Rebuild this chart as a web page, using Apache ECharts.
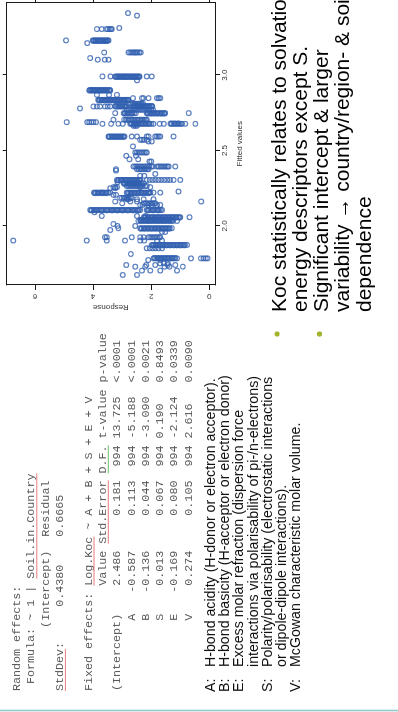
<!DOCTYPE html>
<html>
<head>
<meta charset="utf-8">
<script src="https://cdn.jsdelivr.net/npm/echarts@6/dist/echarts.min.js"></script>
<style>
  html, body { margin: 0; padding: 0; background: #ffffff; overflow: hidden; width: 398px; height: 712px; }
  #slide {
    position: absolute; left: 0; top: 0; width: 712px; height: 398px;
    transform-origin: 0 0; transform: translateY(712px) rotate(-90deg);
    background: #ffffff;
  }
</style>
</head>
<body>
<div id="slide"></div>
<script>
// ---------------- data ----------------
const fittedTicks = [2.0, 2.5, 3.0];
const responseTicks = [0, 2, 4, 6];

// fitted value of each horizontal streak of points
const rowFitted = [
  3.411, 3.394, 3.312, 3.305, 3.230, 3.212, 3.150, 3.113, 3.102, 2.991,
  2.965, 2.898, 2.869, 2.847, 2.836, 2.810, 2.792, 2.779, 2.770, 2.748,
  2.704, 2.688, 2.677, 2.664, 2.593, 2.571, 2.560, 2.527, 2.487, 2.465,
  2.442, 2.427, 2.394, 2.376, 2.367, 2.345, 2.332, 2.305, 2.290, 2.283,
  2.265, 2.257, 2.250, 2.228, 2.221, 2.206, 2.186, 2.177, 2.162, 2.150,
  2.139, 2.106, 2.091, 2.066, 2.058, 2.040, 2.033, 2.013, 2.000, 1.985,
  1.973, 1.960, 1.925, 1.903, 1.874, 1.852, 1.814, 1.785, 1.774, 1.752,
  1.741, 1.730, 1.704, 1.675,
  // companion streaks lying just beside the main ones
  3.226, 2.987, 2.902, 2.832, 2.796, 2.744, 2.680, 2.590, 2.302, 2.279,
  2.217, 2.103, 2.055, 2.036, 1.981, 1.871, 1.788
];

// observed responses along each streak
const rowResponse = [
  [2.80],
  [2.49],
  [3.10],
  [3.87, 3.70, 3.55, 3.49, 3.43, 3.38, 3.36],
  [4.93, 4.01, 3.97, 3.93, 3.89, 3.84, 3.80, 3.76, 3.72, 3.68, 3.63, 3.59, 3.55, 3.50, 3.47],
  [4.20],
  [3.62, 2.78, 2.72, 2.66, 2.61, 2.56, 2.52, 2.47, 2.41, 2.36],
  [4.10],
  [3.84, 3.60, 3.47],
  [3.68, 3.40, 3.24, 3.19, 3.15, 3.10, 3.05, 3.01, 2.97, 2.92, 2.88, 2.84, 2.79, 2.75, 2.70, 2.66, 2.62, 2.57, 2.53, 2.48, 2.44, 2.40, 2.15, 1.98],
  [2.49],
  [4.13, 4.09, 4.05, 4.01, 3.97, 3.93, 3.89, 3.85, 3.80, 3.76, 3.72, 3.68, 3.64, 3.59, 3.55, 3.50, 3.45, 3.41],
  [3.87, 3.45, 3.18],
  [2.63, 2.32, 2.27, 2.09, 1.80, 1.74, 1.69],
  [3.82, 3.77, 3.72, 3.67, 3.62, 3.57, 3.52, 3.47, 3.42, 3.37, 3.32, 3.27, 3.22, 3.17, 3.12, 3.07, 3.02, 2.97, 2.92, 2.87, 2.82, 2.78],
  [2.78, 2.73, 2.68, 2.63, 2.58, 2.53, 2.48, 2.43, 2.38, 2.33, 2.28],
  [3.99, 3.87, 3.76, 3.59, 3.50, 3.41, 3.24, 3.19, 3.14, 3.09, 3.04, 2.99, 2.94, 2.89, 2.84, 2.61, 2.56, 2.51, 2.46, 2.41, 2.36, 2.31, 2.26, 2.21, 2.16, 2.11, 2.06, 2.01, 1.96],
  [4.45],
  [2.84, 2.78, 2.72, 2.66, 2.60, 2.54, 2.48, 2.42, 2.36, 2.30, 2.24, 2.18, 2.12, 2.06, 2.00, 1.94],
  [3.24, 2.95, 2.89, 2.83, 2.77, 2.71, 2.65, 2.59, 2.53, 2.15, 2.10, 2.04, 1.98, 1.92, 1.86, 1.80, 1.74, 1.68, 1.62, 1.56, 1.52, 0.71],
  [3.30, 2.93, 2.88, 2.83, 2.78, 2.73, 2.68, 2.63, 2.58, 2.53, 2.48, 2.43, 2.38, 2.33, 2.28, 2.23, 2.18, 2.15],
  [4.91, 4.20, 4.13, 4.06, 3.99, 3.90],
  [3.68, 3.38, 3.13, 2.98, 2.72, 2.66, 2.60, 2.54, 2.48, 2.42, 2.36, 2.30, 2.24, 2.18, 2.12, 2.06, 2.00, 1.92, 1.71, 1.57, 1.34, 1.28, 1.22, 1.16, 1.10, 1.04, 0.98, 0.94, 0.83, 0.48],
  [2.61, 2.55, 2.49],
  [3.47, 3.42, 3.37, 3.32, 3.27, 3.22, 3.17, 3.12, 3.07, 3.02, 2.97, 2.92, 2.67, 2.49, 2.15, 2.09, 1.86, 1.80, 1.74, 1.69, 1.23],
  [2.38, 2.32, 2.26, 2.15],
  [2.09, 1.98],
  [2.63],
  [2.55, 2.49, 2.43, 2.37, 2.31, 2.25, 2.19, 2.15],
  [2.86, 2.52],
  [2.75, 2.45],
  [2.06, 2.00],
  [2.61, 2.55, 2.49, 2.43, 2.37, 2.31, 2.25, 2.19, 2.13, 2.07, 2.00, 1.94, 1.80, 1.74, 1.68, 1.62, 1.56, 1.50, 1.44, 1.40, 1.17],
  [3.21, 2.49, 2.43, 2.37, 2.31, 2.25, 2.19, 2.13, 2.09],
  [3.21],
  [1.86],
  [2.38, 2.24],
  [3.18, 3.12, 3.06, 3.00, 2.95, 2.90, 2.84, 2.78, 2.72, 2.66, 2.60, 2.54, 2.48, 2.42, 2.38, 2.15, 2.05, 1.95, 1.85, 1.75, 1.65, 1.55, 1.45, 1.35, 1.23, 1.00],
  [3.16],
  [2.95, 2.89, 2.83, 2.77, 2.71, 2.65, 2.59, 2.53, 2.47, 2.41, 2.35, 2.26],
  [2.84, 2.78, 2.72, 2.66, 2.60, 2.54, 2.48, 2.42, 2.36, 2.30, 2.21, 2.15],
  [3.30, 3.24, 3.18, 2.38, 2.03],
  [3.41, 3.24],
  [1.06],
  [3.97, 3.91, 3.85, 3.79, 3.73, 3.70, 3.66, 3.59, 3.53, 3.47, 3.41, 2.84, 2.78, 2.72, 2.66, 2.60, 2.54, 2.48, 2.42, 2.36, 2.30, 2.24, 2.18, 2.12, 2.06, 2.03, 1.92, 1.69],
  [3.30, 3.21],
  [3.07, 3.01, 2.95, 2.89, 2.83, 2.77, 2.71, 2.67],
  [2.84, 2.78, 2.49, 2.26, 1.92],
  [3.24, 2.72, 2.49, 0.28],
  [3.00, 2.26, 2.20, 2.14, 2.08, 2.02, 1.96, 1.90, 1.86],
  [2.38, 2.30, 2.10, 1.98, 1.80, 1.69],
  [4.10, 4.04, 3.98, 3.92, 3.86, 3.80, 3.74, 3.68, 3.62, 3.56, 3.50, 3.44, 3.38, 3.32, 3.26, 3.20, 3.14, 3.08, 3.02, 2.96, 2.90, 2.84, 2.78, 2.72, 2.66, 2.60, 2.54, 2.48, 2.42, 2.38, 2.15, 2.09, 2.03, 1.97, 1.91, 1.85, 1.79, 1.73, 1.67, 1.63],
  [3.95],
  [3.70, 2.49, 2.20],
  [2.26, 2.20, 2.14, 2.08, 2.02, 1.96, 1.90, 1.84, 1.78, 1.72, 1.66, 1.60, 1.54, 1.48, 1.42, 1.36, 1.30, 1.24, 1.18, 1.12, 1.06, 1.00, 0.68],
  [2.38, 2.32, 2.26, 2.20, 2.14, 2.08, 2.02, 1.96, 1.90, 1.84, 1.78, 1.72, 1.66, 1.60, 1.54, 1.48, 1.42, 1.36, 1.29],
  [2.44, 2.36, 2.28, 2.20, 2.12, 2.04, 1.96, 1.88, 1.80, 1.72, 1.64, 1.56, 1.48, 1.40, 1.32, 1.25, 1.11],
  [3.30],
  [3.16, 2.55],
  [3.13, 2.38, 2.32, 2.26, 2.20, 2.14, 2.08, 2.02, 1.96, 1.90, 1.84, 1.78, 1.72, 1.66, 1.60, 1.54, 1.48, 1.42, 1.36, 1.29],
  [3.41],
  [1.63, 1.52],
  [3.59, 3.53, 2.67, 2.38, 2.26, 2.09, 2.03, 1.97, 1.91, 1.85, 1.79, 1.73, 1.69],
  [6.75, 4.22, 3.53, 2.90, 2.38, 2.24, 1.80, 1.63],
  [1.98, 1.92, 1.86, 1.80, 1.74, 1.68, 1.62, 1.56, 1.50, 1.44, 1.38, 1.32, 1.26, 1.20, 1.14, 1.08, 1.02, 0.96, 0.90, 0.84, 0.77],
  [2.15, 2.05, 1.95, 1.85, 1.75, 1.63],
  [2.70],
  [1.92, 1.86, 1.80, 1.74, 1.68, 1.62, 1.56, 1.50, 1.44, 1.38, 1.32, 1.26, 1.20, 1.11, 0.63, 0.29, 0.20, 0.12, 0.06],
  [2.10, 1.69],
  [1.69, 1.57, 1.43],
  [2.86, 2.17, 1.86, 1.43, 1.17],
  [2.55, 2.21, 1.54, 1.37, 0.91],
  [2.32, 2.03, 1.69, 1.11],
  [2.98, 2.49],
  // companion streaks
  [3.99, 3.91, 3.82, 3.74, 3.65, 3.57, 3.52],
  [3.22, 3.13, 3.03, 2.94, 2.86, 2.77, 2.68, 2.59, 2.51, 2.42],
  [4.11, 4.03, 3.95, 3.87, 3.78, 3.70, 3.61, 3.53, 3.43],
  [3.80, 3.70, 3.60, 3.50, 3.40, 3.30, 3.20, 3.10, 3.00, 2.90, 2.80],
  [3.22, 3.12, 3.02, 2.92, 2.58, 2.48, 2.38, 2.28, 2.18, 2.08, 1.98],
  [2.92, 2.80, 2.68, 2.12, 2.01, 1.90, 1.78, 1.66, 1.55],
  [2.70, 2.57, 2.45, 2.33, 2.21, 2.09, 1.31, 1.19, 1.07],
  [3.45, 3.35, 3.25, 3.15, 3.05, 2.95],
  [3.15, 3.03, 2.87, 2.75, 2.63, 2.51, 2.40],
  [2.92, 2.80, 2.68, 2.56, 2.44, 2.32],
  [3.94, 3.82, 3.68, 3.56, 2.81, 2.69, 2.57, 2.45, 2.33, 2.21, 2.09],
  [4.07, 3.89, 3.71, 3.53, 3.35, 3.17, 2.99, 2.81, 2.63, 2.45, 2.12, 1.94, 1.76],
  [2.23, 2.11, 1.99, 1.87, 1.75, 1.63, 1.51, 1.39, 1.27, 1.15, 1.03],
  [2.35, 2.23, 2.11, 1.99, 1.87, 1.75, 1.63, 1.51, 1.39],
  [2.35, 2.23, 2.11, 1.99, 1.87, 1.75, 1.63, 1.51, 1.39],
  [1.95, 1.83, 1.71, 1.59, 1.47, 1.35, 1.23, 1.11, 0.99, 0.87],
  [1.89, 1.77, 1.65, 1.53, 1.41, 1.29, 1.17]
];

// ---------------- texts ----------------
const rOutputLines = [
  'Random effects:',
  ' Formula: ~ 1 | Soil.in.Country',
  '         (Intercept)  Residual',
  'StdDev:     0.4380    0.6665',
  '',
  'Fixed effects: Log.Koc ~ A + B + S + E + V',
  '               Value Std.Error D.F. t-value p-value',
  '(Intercept)    2.486     0.181  994 13.725  <.0001',
  '          A   -0.587     0.113  994 -5.188  <.0001',
  '          B   -0.136     0.044  994 -3.090  0.0021',
  '          S    0.013     0.067  994 0.190   0.8493',
  '          E   -0.169     0.080  994 -2.124  0.0339',
  '          V    0.274     0.105  994 2.616   0.0090'
];
// [line, first char, last char, colour]
const rUnderlines = [
  [1, 16, 30, '#e77c7c'],
  [3, 0, 5, '#e77c7c'],
  [5, 15, 21, '#e77c7c'],
  [6, 21, 29, '#e77c7c'],
  [6, 31, 34, '#6cbf6c']
];

const descriptorKeys = ['A:', 'B:', 'E:', '', 'S:', '', 'V:'];
const descriptorTexts = [
  'H-bond acidity (H-donor or electron acceptor).',
  'H-bond basicity (H-acceptor or electron donor)',
  'Excess molar refraction (dispersion force',
  'interactions via polarisability of pi-/n-electrons)',
  'Polarity/polarisability (electrostatic interactions',
  'or dipole-dipole interactions).',
  'McGowan characteristic molar volume.'
];

const summaryLines = [
  'Koc statistically relates to solvation',
  'energy descriptors except S.',
  'Significant intercept & larger',
  'variability \u2192 country/region- & soil',
  'dependence'
];
const bulletLines = [0, 2];

// ---------------- build ----------------
const points = [];
rowFitted.forEach((f, i) => rowResponse[i].forEach(r => points.push([f, r])));

const MONO = '11.7px "Liberation Mono", "DejaVu Sans Mono", monospace';
const CHAR_W = 7.02;
const R_LEFT = 21, R_TOP = 17, R_STEP = 14.3;

const graphics = [];
graphics.push({ type: 'rect', shape: { x: 0, y: 0, width: 0.8, height: 398 }, style: { fill: '#e6e6e6' }, silent: true });
graphics.push({ type: 'line', shape: { x1: 1.6, y1: 0, x2: 1.6, y2: 398 }, style: { stroke: '#93c9cf', lineWidth: 1.4 }, silent: true });

rOutputLines.forEach((t, i) => {
  if (!t) return;
  graphics.push({ type: 'text', x: R_LEFT, y: R_TOP + R_STEP * i,
    style: { text: t, font: MONO, fill: '#595959', textVerticalAlign: 'middle', textAlign: 'left' }, silent: true });
});
rUnderlines.forEach(([ln, a, b, c]) => {
  const y = R_TOP + R_STEP * ln + 5.5;
  graphics.push({ type: 'line', shape: { x1: R_LEFT + a * CHAR_W, y1: y, x2: R_LEFT + (b + 1) * CHAR_W, y2: y },
    style: { stroke: c, lineWidth: 1 }, silent: true });
});

const D_TOP = 211, D_STEP = 14.2;
descriptorTexts.forEach((t, i) => {
  const y = D_TOP + D_STEP * i;
  if (descriptorKeys[i]) {
    graphics.push({ type: 'text', x: 20, y, style: { text: descriptorKeys[i], font: '14.2px "Liberation Sans", Arial, sans-serif', fill: '#111', textVerticalAlign: 'middle' }, silent: true });
  }
  graphics.push({ type: 'text', x: 45, y, style: { text: t, font: '14.2px "Liberation Sans", Arial, sans-serif', fill: '#111', textVerticalAlign: 'middle' }, silent: true });
});

const S_TOP = 280, S_STEP = 21.2;
summaryLines.forEach((t, i) => {
  const y = S_TOP + S_STEP * i;
  graphics.push({ type: 'text', x: 400, y, style: { text: t, font: '21px "Liberation Sans", Arial, sans-serif', fill: '#000', textVerticalAlign: 'middle' }, silent: true });
});
bulletLines.forEach(i => {
  graphics.push({ type: 'circle', shape: { cx: 378, cy: S_TOP + S_STEP * i - 3, r: 2.6 }, style: { fill: '#a3b42c' }, silent: true });
});

const F_MIN = 1.6085, F_MAX = 3.4818, R_MIN = -0.196, R_MAX = 6.974;
const axisCol = '#1a1a1a';
const labFont = { fontSize: 8, color: '#333', fontFamily: '"Liberation Sans", Arial, sans-serif' };

const chart = echarts.init(document.getElementById('slide'), null, { renderer: 'canvas', width: 712, height: 398 });
chart.setOption({
  animation: false,
  backgroundColor: '#ffffff',
  grid: { left: 427, top: 6.7, width: 282.6, height: 208.3, containLabel: false },
  xAxis: [
    {
      type: 'value', position: 'bottom', min: F_MIN, max: F_MAX,
      axisLine: { show: true, onZero: false, lineStyle: { color: axisCol, width: 1 } },
      axisTick: { show: true, length: 5, customValues: fittedTicks, lineStyle: { color: axisCol } },
      axisLabel: Object.assign({ show: true, customValues: fittedTicks, margin: 6, formatter: v => v.toFixed(1) }, labFont),
      splitLine: { show: false },
      name: 'Fitted values', nameLocation: 'middle', nameGap: 21,
      nameTextStyle: labFont
    },
    {
      type: 'value', position: 'top', min: F_MIN, max: F_MAX,
      axisLine: { show: true, onZero: false, lineStyle: { color: axisCol, width: 1 } },
      axisTick: { show: true, length: 4, customValues: fittedTicks, lineStyle: { color: axisCol } },
      axisLabel: { show: false }, splitLine: { show: false }
    }
  ],
  yAxis: [
    {
      type: 'value', position: 'left', min: R_MIN, max: R_MAX,
      axisLine: { show: true, onZero: false, lineStyle: { color: axisCol, width: 1 } },
      axisTick: { show: true, length: 5, customValues: responseTicks, lineStyle: { color: axisCol } },
      axisLabel: Object.assign({ show: true, customValues: responseTicks, rotate: 90, margin: 7 }, labFont),
      splitLine: { show: false },
      name: 'Response', nameLocation: 'middle', nameGap: 18, nameRotate: 90,
      nameTextStyle: labFont
    },
    {
      type: 'value', position: 'right', min: R_MIN, max: R_MAX,
      axisLine: { show: true, onZero: false, lineStyle: { color: axisCol, width: 1 } },
      axisTick: { show: true, length: 4, customValues: responseTicks, lineStyle: { color: axisCol } },
      axisLabel: { show: false }, splitLine: { show: false }
    }
  ],
  series: [{
    type: 'scatter', xAxisIndex: 0, yAxisIndex: 0,
    data: points,
    symbol: 'circle', symbolSize: 4.8,
    itemStyle: { color: 'rgba(0,0,0,0)', borderColor: '#3260b0', borderWidth: 1.15 },
    silent: true
  }],
  graphic: graphics
});
</script>
</body>
</html>
